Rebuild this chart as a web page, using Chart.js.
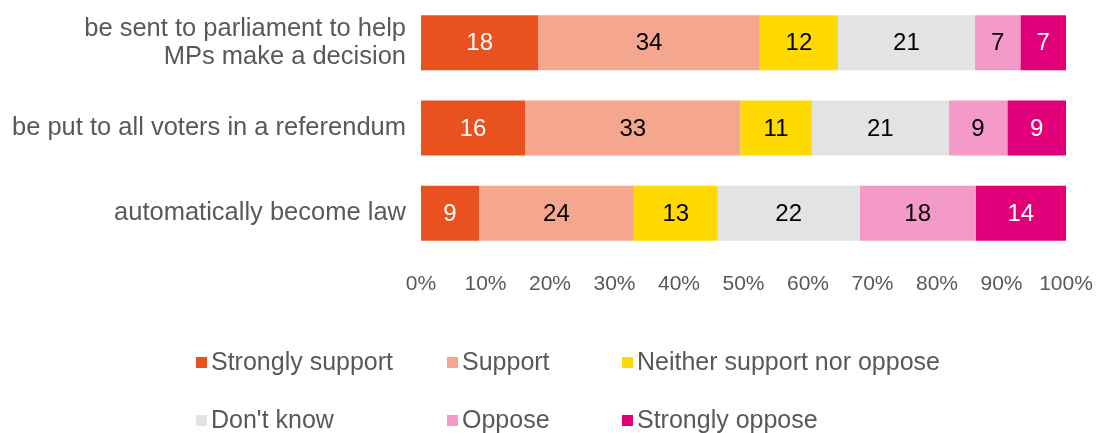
<!DOCTYPE html>
<html>
<head>
<meta charset="utf-8">
<script src="https://cdn.jsdelivr.net/npm/chart.js@4"></script>
<style>
  html, body { margin: 0; padding: 0; background: #fff; }
  #wrap { width: 1102px; height: 433px; }
</style>
</head>
<body>
<div id="wrap"><canvas id="chart" width="1102" height="433"></canvas></div>
<script>
// ---- data ----
const categories = [
    ['be sent to parliament to help', 'MPs make a decision'],
    'be put to all voters in a referendum',
    'automatically become law'
];
const seriesNames = ['Strongly support', 'Support', 'Neither support nor oppose', "Don't know", 'Oppose', 'Strongly oppose'];
const strongSupport = [18, 16, 9];
const support = [34, 33, 24];
const neither = [12, 11, 13];
const dontKnow = [21, 21, 22];
const oppose = [7, 9, 18];
const strongOppose = [7, 9, 14];
const tickLabels = ['0%', '10%', '20%', '30%', '40%', '50%', '60%', '70%', '80%', '90%', '100%'];

const seriesColours = ['#E9511F', '#F4A78E', '#FFDA00', '#E3E3E3', '#F49AC9', '#E2007A'];
const valueColours = ['#FFFFFF', '#000000', '#000000', '#000000', '#000000', '#FFFFFF'];

const series = [strongSupport, support, neither, dontKnow, oppose, strongOppose];

// each row is shown as shares of its own total (100% stacked)
const rowTotals = categories.map((_, i) => series.reduce((sum, s) => sum + s[i], 0));

const FONT = "'Liberation Sans', Arial, sans-serif";
const GREY = '#595959';

// value labels in the middle of each segment
const valueLabels = {
    id: 'valueLabels',
    afterDatasetsDraw(chart) {
        const ctx = chart.ctx;
        ctx.save();
        ctx.font = '24px ' + FONT;
        ctx.textAlign = 'center';
        ctx.textBaseline = 'middle';
        chart.data.datasets.forEach((ds, di) => {
            chart.getDatasetMeta(di).data.forEach((bar, i) => {
                const p = bar.getProps(['x', 'y', 'base']);
                ctx.fillStyle = valueColours[di];
                ctx.fillText(String(ds.raw[i]), (p.x + p.base) / 2, p.y + 1);
            });
        });
        ctx.restore();
    }
};

// legend in a 3-column grid under the axis
const gridLegend = {
    id: 'gridLegend',
    afterDraw(chart) {
        const ctx = chart.ctx;
        const colX = [196, 447, 622];
        const rowY = [362, 420];
        ctx.save();
        ctx.font = '25px ' + FONT;
        ctx.textBaseline = 'middle';
        ctx.textAlign = 'left';
        chart.data.datasets.forEach((ds, i) => {
            const x = colX[i % 3];
            const y = rowY[Math.floor(i / 3)];
            ctx.fillStyle = ds.backgroundColor;
            ctx.fillRect(x, y - 5, 11, 11);
            ctx.fillStyle = GREY;
            ctx.fillText(ds.label, x + 15, y + 1);
        });
        ctx.restore();
    }
};

new Chart(document.getElementById('chart'), {
    type: 'bar',
    data: {
        labels: categories,
        datasets: series.map((values, di) => ({
            label: seriesNames[di],
            raw: values,
            data: values.map((v, i) => v / rowTotals[i] * 100),
            backgroundColor: seriesColours[di],
            borderWidth: 0,
            barPercentage: 0.645,
            categoryPercentage: 1
        }))
    },
    options: {
        indexAxis: 'y',
        responsive: false,
        animation: false,
        layout: { padding: { left: 0, right: 36, top: 0, bottom: 137 } },
        plugins: {
            legend: { display: false },
            tooltip: { enabled: false }
        },
        scales: {
            x: {
                stacked: true,
                min: 0,
                max: 100,
                grid: { display: false, drawTicks: false },
                border: { display: false },
                afterFit: scale => {
                    scale.height = 40;
                    scale.paddingLeft = 0;
                    scale.paddingRight = 0;
                },
                ticks: {
                    stepSize: 10,
                    padding: 16,
                    maxRotation: 0,
                    autoSkip: false,
                    color: GREY,
                    font: { family: FONT, size: 21 },
                    callback: (value, index) => tickLabels[index]
                }
            },
            y: {
                stacked: true,
                grid: { display: false, drawTicks: false },
                border: { display: false },
                afterFit: scale => {
                    scale.width = 421;
                    scale.paddingTop = 0;
                    scale.paddingBottom = 0;
                },
                ticks: {
                    padding: 15,
                    color: GREY,
                    font: { family: FONT, size: 25.5, lineHeight: 1.1 }
                }
            }
        }
    },
    plugins: [valueLabels, gridLegend]
});
</script>
</body>
</html>
